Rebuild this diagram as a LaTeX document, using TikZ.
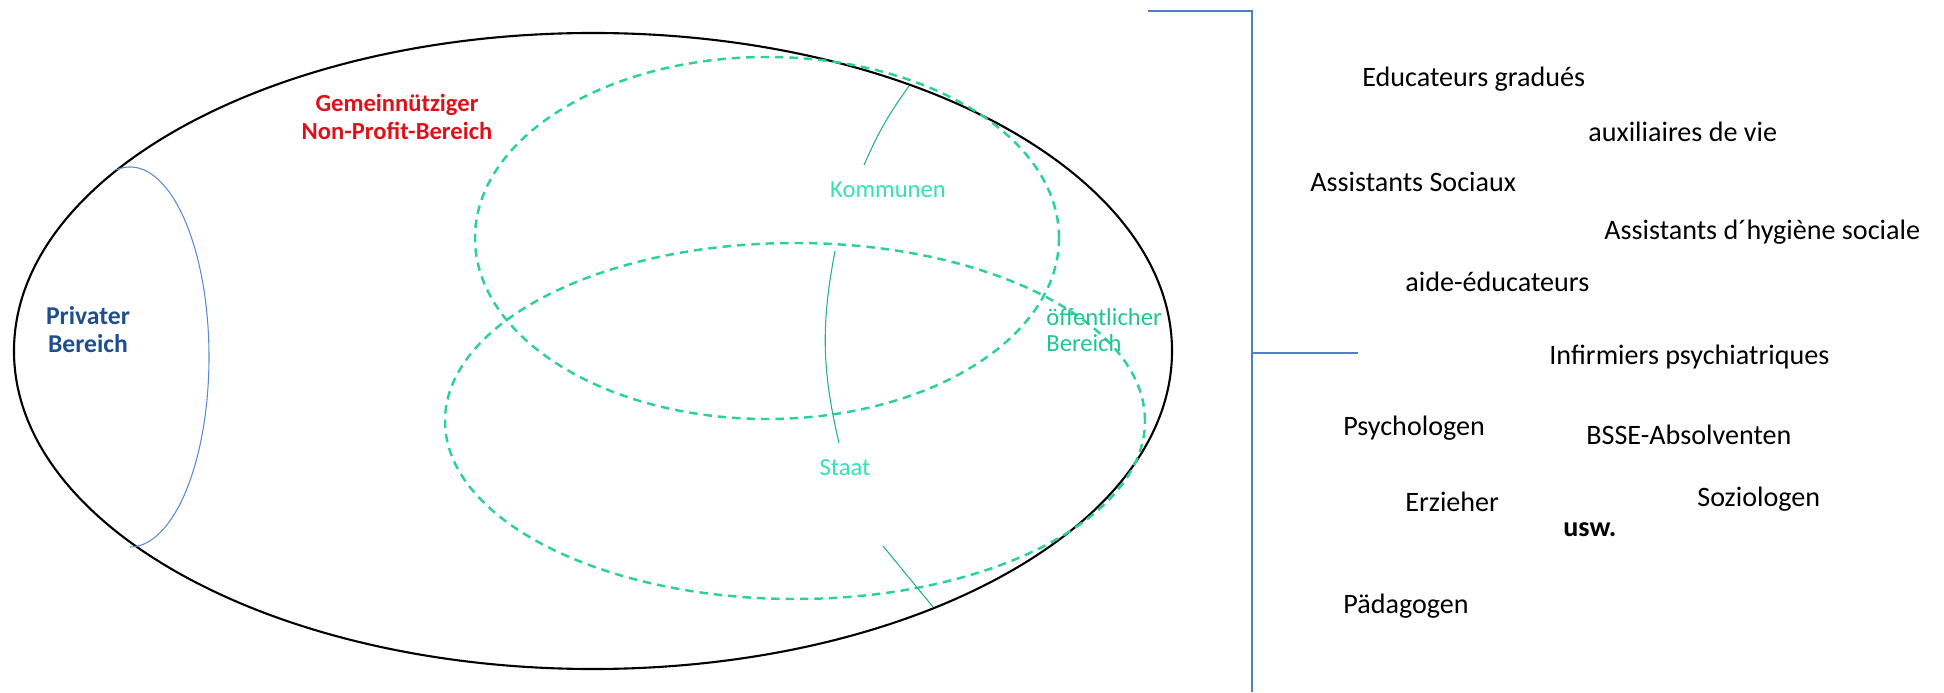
\documentclass[tikz,border=0pt]{standalone}
\usepackage{fontspec}
\setmainfont{Carlito}
\usepackage{tikz}
\usetikzlibrary{positioning}
\definecolor{tealdash}{HTML}{2BD19A}
\definecolor{tealtext}{HTML}{33E2B2}
\definecolor{tealdark}{HTML}{22C490}
\definecolor{privblue}{HTML}{1F4E8C}
\definecolor{arcblue}{HTML}{5A8AD0}
\definecolor{bracketblue}{HTML}{4F7FC8}
\definecolor{gemred}{HTML}{E0101A}
\tikzset{
    job/.style={inner sep=0pt, anchor=west, font=\fontsize{16}{18}\selectfont},
    zone/.style={inner sep=0pt, align=center, font=\bfseries\fontsize{14}{15.8}\selectfont},
    sector/.style={inner sep=0pt, align=left, text=tealtext, font=\fontsize{14}{15}\selectfont},
    outerline/.style={line width=1.2pt, black},
    dashzone/.style={line width=1.4pt, tealdash, dash pattern=on 4.8pt off 3.4pt},
    meridian/.style={line width=0.6pt, tealdash!85!black},
    bracket/.style={line width=1.3pt, bracketblue}
}

\begin{document}
\begin{tikzpicture}[x=0.2mm, y=0.2mm]
    \useasboundingbox (0,0) rectangle (1944,692);
    % Big ellipse with the public circles
    \draw[outerline] (593,341) ellipse [x radius=115.8mm, y radius=63.6mm];
    \draw[dashzone] (767,454) ellipse [x radius=58.4mm, y radius=36.2mm];
    \draw[dashzone] (795,271) ellipse [x radius=70mm, y radius=35.6mm];
    \draw[arcblue, line width=0.6pt] (130,335) ++(100:15.8mm and 38mm)
        arc [start angle=100, end angle=-90, x radius=15.8mm, y radius=38mm];

    % Meridian lines
    \coordinate (k_top) at (909,606);
    \coordinate (k_end) at (864,527);
    \coordinate (s_top) at (835,441);
    \coordinate (s_end) at (839,249);
    \coordinate (b_top) at (883,146);
    \coordinate (b_end) at (933,85);
    \draw[meridian] (k_top) to[bend right=6] (k_end);
    \draw[meridian] (s_top) to[bend right=12] (s_end);
    \draw[meridian] (b_top) -- (b_end);

    % Labels inside the ellipse
    \node[zone, text=gemred] (gemein) at (397,575) {Gemeinnütziger\\Non-Profit-Bereich};
    \node[zone, text=privblue, font=\bfseries\fontsize{14.6}{16}\selectfont] (privat) at (88,362) {Privater\\Bereich};
    \node[sector] (kommunen) at (888,502) {Kommunen};
    \node[sector] (staat) at (845,224) {Staat};
    \node[sector, text=tealdark, anchor=west] (oeffentlich) at (1046,362) {öffentlicher\\Bereich};

    % Bracket
    \coordinate (br_left) at (1148,681);
    \coordinate (br_top) at (1252,681);
    \coordinate (br_mid) at (1252,339);
    \coordinate (br_tick) at (1358,339);
    \coordinate (br_bot) at (1252,0);
    \draw[bracket] (br_left) -- (br_top) -- (br_bot);
    \draw[bracket] (br_mid) -- (br_tick);

    % Professions
    \node[job] (educ) at (1362,613) {Educateurs gradués};
    \node[job] (auxil) at (1588,560) {auxiliaires de vie};
    \node[job] (assoc) at (1310,510) {Assistants Sociaux};
    \node[job] (ashyg) at (1604,460) {Assistants d´hygiène sociale};
    \node[job] (aide) at (1405,410) {aide-éducateurs};
    \node[job] (infirm) at (1549,335) {Infirmiers psychiatriques};
    \node[job] (psych) at (1343,264) {Psychologen};
    \node[job] (bsse) at (1586,257) {BSSE-Absolventen};
    \node[job] (erzieh) at (1405,190) {Erzieher};
    \node[job] (soziol) at (1697,193) {Soziologen};
    \node[job, font=\bfseries\fontsize{16}{18}\selectfont] (usw) at (1563,162) {usw.};
    \node[job] (paedag) at (1343,86) {Pädagogen};
\end{tikzpicture}
\end{document}
